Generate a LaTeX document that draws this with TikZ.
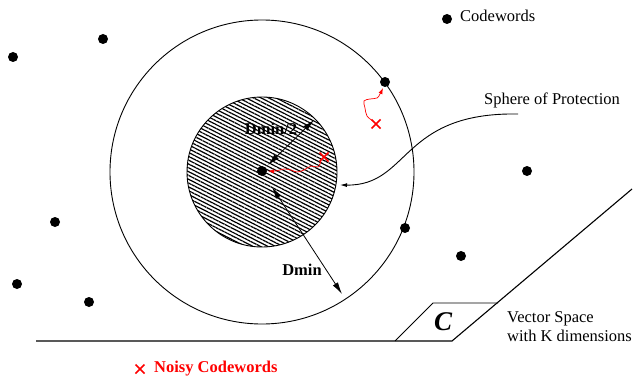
\documentclass[tikz,border=0pt]{standalone}
\usepackage{fontspec}
\setmainfont{Liberation Serif}
\usetikzlibrary{arrows.meta,patterns.meta,calc}
\begin{document}
\begin{tikzpicture}[x=1pt,y=-1pt,
  dot/.style={circle,fill=black,inner sep=0pt,minimum size=10pt},
  lbl/.style={inner sep=0pt,font=\fontsize{16.5}{19}\selectfont},
  blbl/.style={lbl,font=\fontsize{16.5}{19}\selectfont\bfseries},
  dimarrow/.style={{Latex[length=12pt,width=6pt]}-{Latex[length=12pt,width=6pt]},line width=0.8pt},
  noisy/.style={red,line width=0.7pt,-{Latex[length=6pt,width=4pt]}},
  xmark/.style={red,line width=1.5pt},
  thinline/.style={line width=0.9pt}]
\useasboundingbox (0,0) rectangle (636,377);
% outer sphere
\draw[thinline] (262,172) circle[radius=152];
% hatched sphere
\draw[thinline,pattern={Lines[angle=-27,distance=3.4pt,line width=1.2pt]}] (262,172) circle[radius=75];
% vector space
\coordinate (vsl) at (36,341);
\coordinate (vsc) at (452,341);
\coordinate (vsr) at (632,189);
\draw[line width=1.1pt] (vsl) -- (vsc) -- (vsr);
\coordinate (pa) at (395,341);
\coordinate (pb) at (433,303);
\coordinate (pc) at (498,303);
\draw[thinline] (pa) -- (pb) -- (pc);
\node[inner sep=0pt,font=\fontsize{27}{30}\selectfont\bfseries\itshape] (cc) at (443,322) {C};
\node[lbl,align=left,anchor=west] (vs) at (507,326.5) {Vector Space\\with K dimensions};
% codewords
\node[dot] (c0) at (262,171) {};
\node[dot] (c1) at (13,57) {};
\node[dot] (c2) at (103,39) {};
\node[dot] (c3) at (385,82) {};
\node[dot] (c4) at (447,19) {};
\node[dot] (c5) at (527,171) {};
\node[dot] (c6) at (405,228) {};
\node[dot] (c7) at (461,256) {};
\node[dot] (c8) at (55,222) {};
\node[dot] (c9) at (17,284) {};
\node[dot] (c10) at (89,302) {};
\node[lbl,anchor=west] (cwl) at (460,16) {Codewords};
% radius arrows
\coordinate (h1) at (268,165);
\coordinate (h2) at (314,120);
\draw[dimarrow] (h1) -- (h2);
\coordinate (d1) at (272,187);
\coordinate (d2) at (342,294);
\draw[dimarrow] (d1) -- (d2);
\node[blbl] (hl) at (271,129) {Dmin/2};
\node[blbl] (dl) at (302,270) {Dmin};
% sphere of protection label
\node[lbl,anchor=west] (sp) at (484,100) {Sphere of Protection};
\coordinate (sps) at (518,114);
\coordinate (spe) at (340,185);
\draw[thinline,-{Latex[length=7pt,width=4pt]}] (sps) .. controls (400,112) and (410,186) .. (spe);
% noisy codewords
\coordinate (n1) at (324,157);
\coordinate (n2) at (376,124);
\coordinate (n3) at (140,369);
\foreach \p in {n1,n2,n3}{
  \draw[xmark] ($(\p)+(-4.5,-4.5)$) -- ($(\p)+(4.5,4.5)$) ($(\p)+(-4.5,4.5)$) -- ($(\p)+(4.5,-4.5)$);
}
\draw[noisy] plot[smooth,tension=0.6] coordinates {(321,161) (318,167) (311,166) (304,170) (297,172) (291,170) (284,169) (276,171) (268,171)};
\draw[noisy] plot[smooth,tension=0.6] coordinates {(373,121) (367,116) (365,108) (364,101) (370,99) (377,98) (380,94) (383,88)};
\node[blbl,text=red,anchor=west] (nl) at (154,369) {Noisy Codewords};
\end{tikzpicture}
\end{document}
